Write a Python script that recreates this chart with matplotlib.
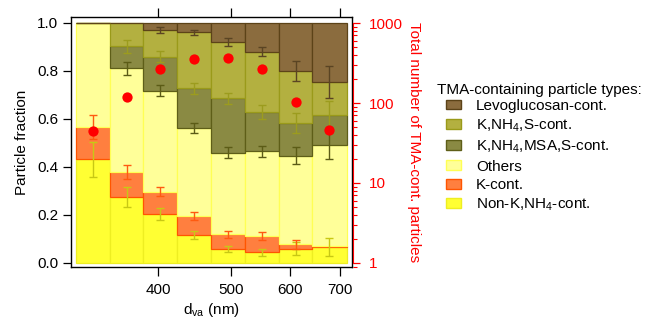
import numpy as np
import matplotlib
matplotlib.use("Agg")
from matplotlib import pyplot as plt
from matplotlib.patches import Patch
from matplotlib.ticker import FixedLocator, NullLocator, LogLocator, NullFormatter, FixedFormatter

plt.rcParams['font.family'] = ['Liberation Sans', 'DejaVu Sans']
plt.rcParams['mathtext.default'] = 'regular'
plt.rcParams['font.size'] = 11

# size bins (nm), geometric
bin_edges = [311, 345, 382, 424, 470, 522, 579, 642, 714]
bin_centers = [327, 363, 402, 446, 495, 550, 610, 677]

# particle-type fractions per bin (stacked bottom -> top)
non_k = [0.433, 0.276, 0.204, 0.117, 0.057, 0.044, 0.060, 0.068]
k_cont = [0.135, 0.102, 0.093, 0.079, 0.063, 0.069, 0.018, 0.003]
others = [0.432, 0.433, 0.421, 0.365, 0.340, 0.352, 0.369, 0.419]
msa = [0.000, 0.093, 0.142, 0.167, 0.226, 0.164, 0.135, 0.128]
knh4s = [0.000, 0.096, 0.111, 0.233, 0.236, 0.252, 0.218, 0.136]
levo = [0.000, 0.000, 0.029, 0.039, 0.078, 0.120, 0.200, 0.246]

# uncertainties (nan = not drawn)
non_k_err = [0.073, 0.041, 0.025, 0.018, 0.0125, 0.014, 0.027, 0.038]
k_err = [0.050, 0.030, 0.018, 0.016, 0.014, 0.017, 0.018, np.nan]
others_err = [np.nan, 0.028, 0.023, 0.021, 0.022, 0.024, 0.035, 0.057]
msa_err = [np.nan, 0.027, 0.022, 0.024, 0.024, 0.028, 0.042, 0.058]
knh4s_err = [np.nan, np.nan, 0.011, 0.011, 0.016, 0.019, 0.040, 0.065]

# total number of TMA-containing particles per bin
totals = [45, 118, 268, 358, 365, 263, 102, 46]

series = [
    # label, values, face, edge, errors, errbar colour
    ("Non-K,NH$_4$-cont.", non_k, '#ffff33', '#eeee22', non_k_err, '#c8c814'),
    ("K-cont.", k_cont, '#ff7f3f', '#ff5500', k_err, '#ff5a10'),
    ("Others", others, '#ffff99', '#ffff55', others_err, '#5c5c16'),
    ("K,NH$_4$,MSA,S-cont.", msa, '#8a8a43', '#5e5e18', msa_err, '#9c9c1e'),
    ("K,NH$_4$,S-cont.", knh4s, '#b3b040', '#9a9a1a', knh4s_err, '#5a4423'),
    ("Levoglucosan-cont.", levo, '#8b6c3e', '#5c4318', None, None),
]

fig = plt.figure(figsize=(6.54, 3.21), dpi=100)
W, H = 654, 321
ax = fig.add_axes([71 / W, (H - 267) / H, (352 - 71) / W, (267 - 17) / H])

edges = np.array(bin_edges, dtype=float)
widths = np.diff(edges)
bottom = np.zeros(len(bin_centers))
for label, vals, face, edge, errs, ecol in series:
    vals = np.array(vals)
    ax.bar(edges[:-1], vals, width=widths, bottom=bottom, align='edge',
           color=face, edgecolor=edge, linewidth=0.9, zorder=1)
    bottom = bottom + vals
    if errs is not None:
        ax.errorbar(bin_centers, bottom, yerr=errs, fmt='none', ecolor=ecol,
                    elinewidth=1.0, capsize=2.6, capthick=1.0, zorder=3)

ax.set_xscale('log')
ax.set_xlim(305.9, 725.5)
ax.set_ylim(-0.0167, 1.025)
ax.xaxis.set_major_locator(FixedLocator([400, 500, 600, 700]))
ax.xaxis.set_major_formatter(FixedFormatter(['400', '500', '600', '700']))
ax.xaxis.set_minor_locator(NullLocator())
ax.set_yticks([0, 0.2, 0.4, 0.6, 0.8, 1.0])
ax.set_yticklabels(['0.0', '0.2', '0.4', '0.6', '0.8', '1.0'])
ax.tick_params(axis='x', which='both', direction='out', length=6.5, width=0.9,
               pad=5, top=True, labelsize=11)
ax.tick_params(axis='y', direction='out', length=6, width=0.9, pad=3, labelsize=11)
for s in ax.spines.values():
    s.set_linewidth(1.0)
ax.set_xlabel("d$_{va}$ (nm)", fontsize=11, labelpad=3)
ax.set_ylabel("Particle fraction", fontsize=11, labelpad=6)

# right axis: total number of particles
ax2 = ax.twinx()
ax2.plot(bin_centers, totals, 'o', color='red', ms=7.4, mec='none', zorder=5)
ax2.set_yscale('log')
ax2.set_ylim(0.891, 1189)
ax2.yaxis.set_major_locator(FixedLocator([1, 10, 100, 1000]))
ax2.yaxis.set_major_formatter(FixedFormatter(['1', '10', '100', '1000']))
ax2.yaxis.set_minor_locator(LogLocator(base=10, subs=np.arange(2, 10)))
ax2.yaxis.set_minor_formatter(NullFormatter())
for name in ['left', 'top', 'bottom']:
    ax2.spines[name].set_visible(False)
ax2.spines['right'].set_color('red')
ax2.spines['right'].set_position(('outward', 1))
ax2.spines['right'].set_bounds(1, 1000)
ax2.tick_params(axis='y', which='major', colors='red', length=5, width=0.9,
                pad=6, labelsize=11)
ax2.tick_params(axis='y', which='minor', colors='red', length=3, width=0.8)
fig.text(414 / W, 1 - 142 / H, "Total number of TMA-cont. particles",
         rotation=270, ha='center', va='center', color='red', fontsize=11)

# legend, top to bottom
fig.text(437 / W, 1 - 90 / H, "TMA-containing particle types:",
         ha='left', va='center', fontsize=11)
handles = [Patch(facecolor=face, edgecolor=edge, linewidth=1.0)
           for label, vals, face, edge, errs, ecol in series][::-1]
labels = [s[0] for s in series][::-1]
fig.legend(handles, labels,
           loc='upper left', bbox_to_anchor=(446 / W, 1 - 99 / H),
           frameon=False, fontsize=11,
           handlelength=1.0, handleheight=0.6, handletextpad=0.95,
           labelspacing=0.3, borderpad=0, borderaxespad=0)

fig.savefig("out.png", dpi=100)
